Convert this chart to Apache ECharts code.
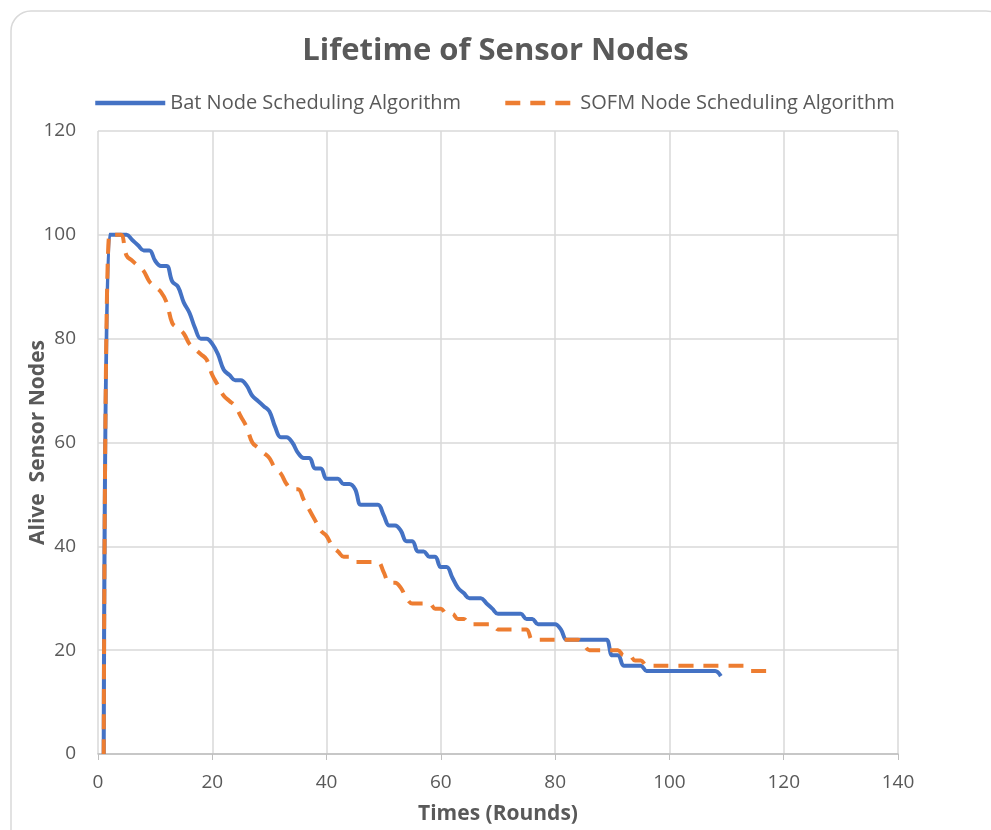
<!DOCTYPE html>
<html>
<head>
<meta charset="utf-8">
<script src="https://cdn.jsdelivr.net/npm/echarts@6/dist/echarts.min.js"></script>
<style>
  html, body { margin: 0; padding: 0; background: #fff; }
  #main { width: 991px; height: 830px; }
</style>
</head>
<body>
<div id="main"></div>
<script>
var batX = [];
for (var i = 1; i <= 109; i++) batX.push(i);
var batY = [0, 100, 100, 100, 100, 99, 98, 97, 97, 95,
  94, 94, 91, 90, 87, 85, 82, 80, 80, 79,
  77, 74, 73, 72, 72, 71, 69, 68, 67, 66,
  63, 61, 61, 60, 58, 57, 57, 55, 55, 53,
  53, 53, 52, 52, 51, 48, 48, 48, 48, 46,
  44, 44, 43, 41, 41, 39, 39, 38, 38, 36,
  36, 34, 32, 31, 30, 30, 30, 29, 28, 27,
  27, 27, 27, 27, 26, 26, 25, 25, 25, 25,
  24, 22, 22, 22, 22, 22, 22, 22, 22, 19,
  19, 17, 17, 17, 17, 16, 16, 16, 16, 16,
  16, 16, 16, 16, 16, 16, 16, 16, 15];

var sofmX = [];
for (var j = 1; j <= 118; j++) sofmX.push(j);
var sofmY = [0, 100, 100, 100, 96, 95, 94, 93, 91, 90,
  89, 87, 83, 82, 81, 79, 78, 77, 76, 73,
  71, 69, 68, 67, 65, 63, 60, 59, 58, 57,
  55, 54, 52, 51, 51, 49, 47, 45, 43, 42,
  40, 39, 38, 38, 37, 37, 37, 37, 37, 35,
  33, 33, 32, 30, 29, 29, 29, 29, 28, 28,
  27, 27, 26, 26, 25, 25, 25, 25, 25, 24,
  24, 24, 24, 24, 24, 22, 22, 22, 22, 22,
  22, 22, 22, 22, 21, 20, 20, 20, 20, 20,
  20, 19, 19, 18, 18, 17, 17, 17, 17, 17,
  17, 17, 17, 17, 17, 17, 17, 17, 17, 17,
  17, 17, 17, 16, 16, 16, 16, 16];

var xTicks = [0, 20, 40, 60, 80, 100, 120, 140];
var yTicks = [0, 20, 40, 60, 80, 100, 120];

function pairs(xs, ys) {
  return xs.map(function (x, k) { return [x, ys[k]]; });
}

var myChart = echarts.init(document.getElementById('main'));
var fontName = 'Open Sans';

var option = {
  backgroundColor: '#fff',
  animation: false,
  graphic: [{
    type: 'rect',
    shape: { x: 11, y: 11, width: 995, height: 840, r: 20 },
    style: { fill: 'none', stroke: '#d9d9d9', lineWidth: 1.5 },
    silent: true
  }],
  title: {
    text: 'Lifetime of Sensor Nodes',
    left: 'center',
    top: 31,
    textStyle: { fontFamily: fontName, fontSize: 31, fontWeight: 'bold', color: '#595959' }
  },
  legend: {
    top: 88,
    left: 88,
    itemWidth: 70,
    itemHeight: 4,
    itemGap: 42,
    itemStyle: { opacity: 0 },
    lineStyle: { width: 4.5 },
    textStyle: { fontFamily: fontName, fontSize: 20, color: '#595959' },
    data: ['Bat Node Scheduling Algorithm', 'SOFM Node Scheduling Algorithm']
  },
  grid: { left: 98, right: 93, top: 131, bottom: 74 },
  xAxis: {
    type: 'value',
    min: 0, max: 140, interval: 20,
    name: 'Times (Rounds)',
    nameLocation: 'middle',
    nameGap: 50,
    nameMoveOverlap: false,
    nameTextStyle: { fontFamily: fontName, fontSize: 21, fontWeight: 'bold', color: '#595959' },
    axisLine: { show: true, lineStyle: { color: '#bfbfbf', width: 1.5 } },
    axisTick: { show: true, length: 6, lineStyle: { color: '#bfbfbf' } },
    axisLabel: {
      fontFamily: fontName, fontSize: 19, color: '#595959', margin: 19,
      formatter: function (v) { return xTicks.indexOf(v) >= 0 ? String(v) : ''; }
    },
    splitLine: { show: true, lineStyle: { color: '#d9d9d9', width: 1.5 } }
  },
  yAxis: {
    type: 'value',
    min: 0, max: 120, interval: 20,
    name: 'Alive  Sensor Nodes',
    nameLocation: 'middle',
    nameGap: 49,
    nameMoveOverlap: false,
    nameTextStyle: { fontFamily: fontName, fontSize: 21, fontWeight: 'bold', color: '#595959' },
    axisLine: { show: false },
    axisTick: { show: false },
    axisLabel: {
      fontFamily: fontName, fontSize: 19, color: '#595959', margin: 22,
      formatter: function (v) { return yTicks.indexOf(v) >= 0 ? String(v) : ''; }
    },
    splitLine: { show: true, lineStyle: { color: '#d9d9d9', width: 1.5 } }
  },
  series: [
    {
      name: 'Bat Node Scheduling Algorithm',
      type: 'line',
      data: pairs(batX, batY),
      smooth: 0.4,
      showSymbol: false,
      symbol: 'none',
      itemStyle: { color: '#4472c4' },
      lineStyle: { color: '#4472c4', width: 4 },
      z: 3
    },
    {
      name: 'SOFM Node Scheduling Algorithm',
      type: 'line',
      data: pairs(sofmX, sofmY),
      smooth: 0.4,
      showSymbol: false,
      symbol: 'none',
      itemStyle: { color: '#ed7d31' },
      lineStyle: { color: '#ed7d31', width: 4, type: [15, 10] },
      z: 4
    }
  ]
};
myChart.setOption(option);
myChart.resize();
</script>
</body>
</html>
